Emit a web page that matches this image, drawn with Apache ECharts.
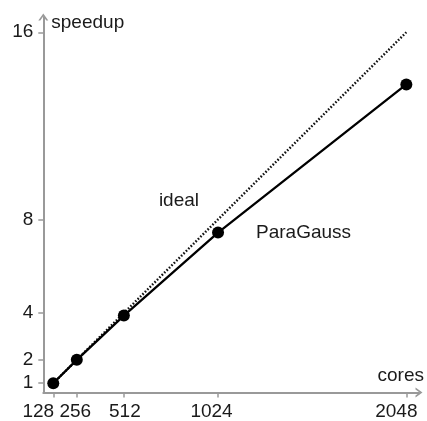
<!DOCTYPE html>
<html>
<head>
<meta charset="utf-8">
<script src="https://cdn.jsdelivr.net/npm/echarts@6/dist/echarts.min.js"></script>
<style>
  html, body { margin: 0; padding: 0; background: #fff; }
  #chart { width: 427px; height: 421px; }
</style>
</head>
<body>
<div id="chart"></div>
<script>
// Strong scaling: cores vs. speedup relative to 128 cores
const cores = [128, 256, 512, 1024, 2048];
const speedupTicks = [1, 2, 4, 8, 16];
const paraGaussSpeedup = [1, 2, 3.89, 7.44, 13.77];
const idealCores = [128, 1024, 2048];
const idealSpeedup = [1, 8, 16];

const FONT = '"Liberation Sans", Arial, Helvetica, sans-serif';
const AXIS_GREY = '#999999';
const INK = '#1a1a1a';
// open chevron used as the arrow head on both axes
const chevron = 'path://M0,7 L5,0 L10,7 L8,7 L5,2.8 L2,7 Z';

// the tick labels along the cores axis are nudged so the crowded
// ones on the left don't collide: [left pad, right pad] per label
const coreLabelPad = {
  128: [0, 30],
  256: [0, 3],
  512: [2, 0],
  1024: [0, 13],
  2048: [0, 20]
};
const coreRich = {};
Object.keys(coreLabelPad).forEach((k) => {
  coreRich['c' + k] = {
    fontFamily: FONT, fontSize: 19, color: INK,
    padding: [0, coreLabelPad[k][1], 0, coreLabelPad[k][0]]
  };
});

const paraData = cores.map((c, i) => {
  const item = { value: [c, paraGaussSpeedup[i]] };
  if (c === 1024) {
    item.label = { show: true, position: 'right', distance: 32, formatter: '{a}' };
  }
  return item;
});
const idealData = idealCores.map((c, i) => {
  const item = { value: [c, idealSpeedup[i]] };
  if (c === 1024) {
    item.label = { show: true, position: 'left', distance: 19, offset: [0, -19], formatter: '{a}' };
  }
  return item;
});

const chart = echarts.init(document.getElementById('chart'), null, { renderer: 'canvas' });
chart.setOption({
  animation: false,
  backgroundColor: '#fff',
  textStyle: { fontFamily: FONT, color: INK },
  grid: { left: 43.3, right: 7, top: 17, bottom: 26.7, containLabel: false },
  xAxis: {
    type: 'value',
    min: 73.8,
    max: 2116.9,
    name: 'cores',
    nameLocation: 'end',
    nameGap: 5,
    nameTextStyle: { fontFamily: FONT, fontSize: 19, color: INK, align: 'right', verticalAlign: 'bottom', padding: [0, 0, 7, 0] },
    axisLine: { show: true, symbol: ['none', chevron], symbolSize: [10, 7], lineStyle: { color: AXIS_GREY, width: 2 } },
    axisTick: { show: true, inside: false, length: 5, interval: 0, customValues: cores, lineStyle: { color: AXIS_GREY, width: 1.5 } },
    axisLabel: {
      show: true, margin: 9.5, interval: 0, customValues: cores, showMinLabel: true, showMaxLabel: true, hideOverlap: false,
      formatter: (v) => '{c' + v + '|' + v + '}', rich: coreRich,
      fontFamily: FONT, fontSize: 19, color: INK
    },
    splitLine: { show: false }
  },
  yAxis: {
    type: 'value',
    min: 0.603,
    max: 16.652,
    name: 'speedup',
    nameLocation: 'end',
    nameGap: -6,
    nameTextStyle: { fontFamily: FONT, fontSize: 19, color: INK, align: 'left', verticalAlign: 'middle', padding: [0, 0, 0, 8] },
    axisLine: { show: true, symbol: ['none', chevron], symbolSize: [10, 7], lineStyle: { color: AXIS_GREY, width: 2 } },
    axisTick: { show: true, inside: false, length: 5, interval: 0, customValues: speedupTicks, lineStyle: { color: AXIS_GREY, width: 1.5 } },
    axisLabel: {
      show: true, margin: 10, interval: 0, customValues: speedupTicks, showMinLabel: true, showMaxLabel: true, hideOverlap: false,
      formatter: (v) => String(v), fontFamily: FONT, fontSize: 19, color: INK
    },
    splitLine: { show: false }
  },
  series: [
    {
      name: 'ideal',
      type: 'line',
      data: idealData,
      symbol: 'circle',
      symbolSize: 0,
      showSymbol: true,
      z: 1,
      lineStyle: { color: '#111', width: 2.4, type: [1.6, 1.8] },
      itemStyle: { color: '#111' },
      label: { show: false, fontFamily: FONT, fontSize: 19, color: INK },
      emphasis: { disabled: true }
    },
    {
      name: 'ParaGauss',
      type: 'line',
      data: paraData,
      symbol: 'circle',
      symbolSize: 12,
      z: 2,
      lineStyle: { color: '#000', width: 2.3 },
      itemStyle: { color: '#000' },
      label: { show: false, fontFamily: FONT, fontSize: 19, color: INK },
      emphasis: { disabled: true }
    }
  ]
});
</script>
</body>
</html>
